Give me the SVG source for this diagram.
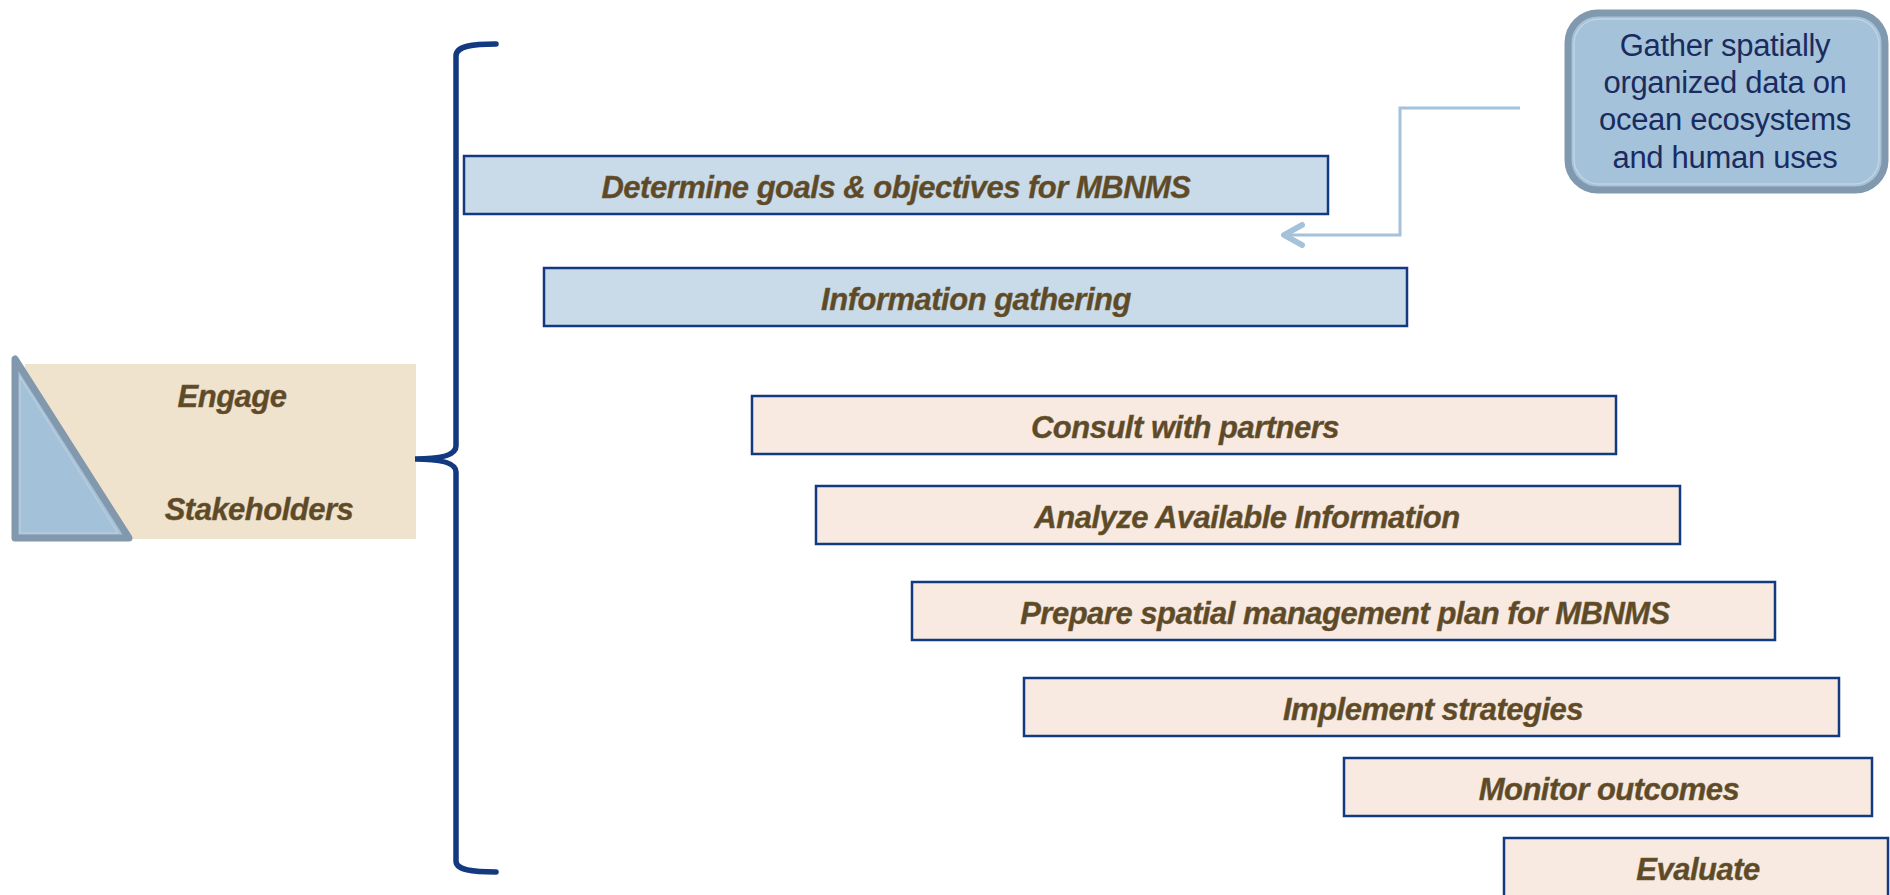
<svg xmlns="http://www.w3.org/2000/svg" width="1890" height="895" viewBox="0 0 1890 895">
<style>
.step{stroke:#123a80;stroke-width:2.5}
.blue{fill:#c9dbe9}
.peach{fill:#f8eae0}
.lbl{font-family:"Liberation Sans",Arial,sans-serif;font-weight:bold;font-style:italic;font-size:31px;letter-spacing:-0.5px;fill:#5e4a27;stroke:#6b5a40;stroke-width:0.4;text-anchor:middle}
.gt{font-family:"Liberation Sans",Arial,sans-serif;font-size:31px;letter-spacing:-0.3px;fill:#1a2b60;text-anchor:middle}
</style>
<rect width="1890" height="895" fill="#ffffff"/>

<g id="engage-stakeholders">
<rect x="25" y="364" width="391" height="175" fill="#f0e3cd"/>
<polygon points="15,359 15,538 129,538" fill="#a3c2da" stroke="#8198ad" stroke-width="7" stroke-linejoin="round"/>
<polygon points="20,377 20,533 118,533" fill="none" stroke="#b9cbd9" stroke-width="1.5"/>
<text class="lbl" x="232" y="407">Engage</text>
<text class="lbl" x="259" y="520">Stakeholders</text>
</g>

<g id="bracket">
<path d="M 496 44 C 472 44, 456 46, 456 56 L 456 446 C 456 455, 442 459, 415 459 C 442 459, 456 463, 456 472 L 456 861 C 456 870, 472 872, 496 872" fill="none" stroke="#133a80" stroke-width="5.5" stroke-linecap="round"/>
</g>

<g id="gather-data">
<rect x="1568" y="13" width="317" height="177" rx="30" ry="30" fill="#a4c2da" stroke="#8199ae" stroke-width="7"/>
<rect x="1574" y="19" width="305" height="165" rx="25" ry="25" fill="none" stroke="#c2d3e0" stroke-width="1.5"/>
<text class="gt" x="1725" y="56">Gather spatially</text>
<text class="gt" x="1725" y="93">organized data on</text>
<text class="gt" x="1725" y="130">ocean ecosystems</text>
<text class="gt" x="1725" y="168">and human uses</text>
</g>

<g id="connectors">
<polyline points="1520,108 1400,108 1400,235 1284,235" fill="none" stroke="#a4c2da" stroke-width="3"/>
<polyline points="1302,225 1284,235 1302,245" fill="none" stroke="#a4c2da" stroke-width="6" stroke-linecap="round" stroke-linejoin="round"/>
</g>

<g id="step1">
<rect class="step blue" x="464" y="156" width="864" height="58"/>
<text class="lbl" x="896" y="198">Determine goals &amp; objectives for MBNMS</text>
</g>
<g id="step2">
<rect class="step blue" x="544" y="268" width="863" height="58"/>
<text class="lbl" x="976" y="310">Information gathering</text>
</g>
<g id="step3">
<rect class="step peach" x="752" y="396" width="864" height="58"/>
<text class="lbl" x="1185" y="438">Consult with partners</text>
</g>
<g id="step4">
<rect class="step peach" x="816" y="486" width="864" height="58"/>
<text class="lbl" x="1247" y="528">Analyze Available Information</text>
</g>
<g id="step5">
<rect class="step peach" x="912" y="582" width="863" height="58"/>
<text class="lbl" x="1345" y="624">Prepare spatial management plan for MBNMS</text>
</g>
<g id="step6">
<rect class="step peach" x="1024" y="678" width="815" height="58"/>
<text class="lbl" x="1433" y="720">Implement strategies</text>
</g>
<g id="step7">
<rect class="step peach" x="1344" y="758" width="528" height="58"/>
<text class="lbl" x="1609" y="800">Monitor outcomes</text>
</g>
<g id="step8">
<rect class="step peach" x="1504" y="838" width="384" height="60"/>
<text class="lbl" x="1698" y="880">Evaluate</text>
</g>
</svg>
